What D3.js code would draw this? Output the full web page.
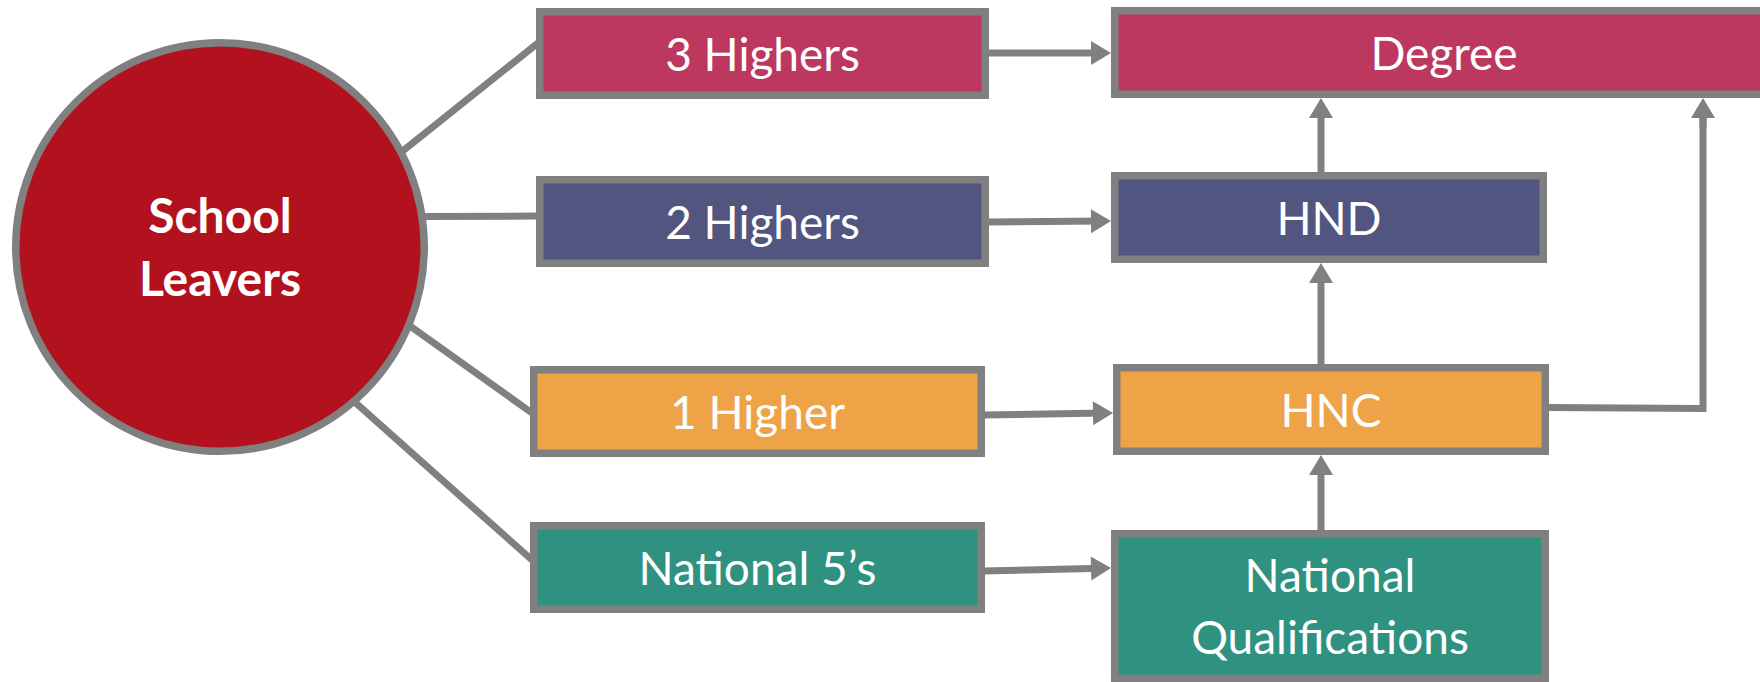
<!DOCTYPE html>
<html lang="en">
<head>
  <meta charset="UTF-8">
  <title>School leaver pathways</title>
  <script src="https://cdn.jsdelivr.net/npm/d3@7/dist/d3.min.js"></script>
  <style>
    body { margin: 0; background: #fff; }
    svg { display: block; }
  </style>
</head>
<body>
  <svg width="1760" height="682"></svg>
  <script>
    // nodes and links
    var startLabel = ['School', 'Leavers'];
    var leftLabels = ['3 Highers', '2 Highers', '1 Higher', 'National 5\u2019s'];
    var rightLabels = ['Degree', 'HND', 'HNC', 'National|Qualifications'];
    var levels = ['top', 'second', 'third', 'bottom'];
    // school leaver -> left box, left box -> right box (same level)
    var upLinks = [['HND', 'Degree'], ['HNC', 'HND'], ['National|Qualifications', 'HNC']];
    var elbowLinks = [['HNC', 'Degree']];

    // layout (outer edges of the boxes, in pixels)
    var leftBoxes = [
      {x0: 536, x1: 989, y0: 8, y1: 99, inY: 43, outY: 53},
      {x0: 536, x1: 989, y0: 176, y1: 267, inY: 216, outY: 222},
      {x0: 530, x1: 985, y0: 366, y1: 457, inY: 413, outY: 415},
      {x0: 530, x1: 985, y0: 522, y1: 613, inY: 560, outY: 571}
    ];
    var rightBoxes = [
      {x0: 1111, x1: 1777, y0: 7, y1: 98, inY: 53},
      {x0: 1111, x1: 1547, y0: 172, y1: 263, inY: 221},
      {x0: 1113, x1: 1549, y0: 364, y1: 455, inY: 413},
      {x0: 1111, x1: 1549, y0: 530, y1: 682, inY: 568}
    ];
    var spokeAngles = [-27.7, -8.5, 22.6, 49];
    var hub = {cx: 220, cy: 247, r: 208};
    var upX = 1321, elbowX = 1703, elbowY = 407.5;

    var palette = ['#bc385e', '#52557f', '#efa347', '#2f9280'];
    var hubColor = '#b2121d';
    var grey = '#808080';
    var sw = 7.5;
    var fontSize = 46;
    var lineGap = 62;

    var svg = d3.select('svg');
    var linkLayer = svg.append('g');
    var nodeLayer = svg.append('g');
    var line = d3.line();

    function arrow(from, to) {
      var dx = to[0] - from[0], dy = to[1] - from[1];
      var len = Math.sqrt(dx * dx + dy * dy);
      var ux = dx / len, uy = dy / len;
      var headLen = 20, half = 12;
      var base = [to[0] - ux * headLen, to[1] - uy * headLen];
      linkLayer.append('path')
        .attr('d', line([from, [to[0] - ux * 8, to[1] - uy * 8]]))
        .attr('stroke', grey).attr('stroke-width', 7).attr('fill', 'none');
      linkLayer.append('path')
        .attr('d', line([to, [base[0] - uy * half, base[1] + ux * half], [base[0] + uy * half, base[1] - ux * half]]) + 'Z')
        .attr('fill', grey);
    }

    // spokes from the hub
    levels.forEach(function(l, i) {
      var a = spokeAngles[i] * Math.PI / 180;
      var b = leftBoxes[i];
      var start = [hub.cx + (hub.r - 2) * Math.cos(a), hub.cy + (hub.r - 2) * Math.sin(a)];
      linkLayer.append('path')
        .attr('d', line([start, [b.x0 + 2, b.inY]]))
        .attr('stroke', grey).attr('stroke-width', 7).attr('fill', 'none');
    });

    // left -> right arrows
    levels.forEach(function(l, i) {
      var a = leftBoxes[i], b = rightBoxes[i];
      arrow([a.x1 - 2, a.outY], [b.x0, b.inY]);
    });

    var rightIndex = {};
    rightLabels.forEach(function(d, i) { rightIndex[d] = i; });

    upLinks.forEach(function(d) {
      var s = rightBoxes[rightIndex[d[0]]], t = rightBoxes[rightIndex[d[1]]];
      arrow([upX, s.y0 + 2], [upX, t.y1]);
    });

    elbowLinks.forEach(function(d) {
      var s = rightBoxes[rightIndex[d[0]]], t = rightBoxes[rightIndex[d[1]]];
      linkLayer.append('path')
        .attr('d', line([[s.x1 - 2, elbowY], [elbowX, elbowY + 1], [elbowX, t.y1 + 12]]))
        .attr('stroke', grey).attr('stroke-width', 7).attr('fill', 'none')
        .attr('stroke-linejoin', 'miter');
      arrow([elbowX, t.y1 + 30], [elbowX, t.y1]);
    });

    function box(b, color, label) {
      var g = nodeLayer.append('g');
      g.append('rect')
        .attr('x', b.x0 + sw / 2).attr('y', b.y0 + sw / 2)
        .attr('width', b.x1 - b.x0 - sw).attr('height', b.y1 - b.y0 - sw)
        .attr('fill', color).attr('stroke', grey).attr('stroke-width', sw);
      var lines = label.split('|');
      var cx = (b.x0 + b.x1) / 2, cy = (b.y0 + b.y1) / 2;
      lines.forEach(function(t, k) {
        g.append('text')
          .attr('x', cx)
          .attr('y', cy + 17 + (k - (lines.length - 1) / 2) * lineGap)
          .attr('text-anchor', 'middle')
          .attr('font-family', 'Lato, "Open Sans", sans-serif')
          .attr('font-size', fontSize)
          .attr('fill', '#fff')
          .text(t);
      });
    }

    leftLabels.forEach(function(d, i) { box(leftBoxes[i], palette[i], d); });
    rightLabels.forEach(function(d, i) { box(rightBoxes[i], palette[i], d); });

    // hub circle
    nodeLayer.append('circle')
      .attr('cx', hub.cx).attr('cy', hub.cy).attr('r', hub.r - sw / 2)
      .attr('fill', hubColor).attr('stroke', grey).attr('stroke-width', sw);
    startLabel.forEach(function(t, k) {
      nodeLayer.append('text')
        .attr('x', hub.cx)
        .attr('y', hub.cy + 17 + (k - 0.5) * 63)
        .attr('text-anchor', 'middle')
        .attr('font-family', 'Lato, "Open Sans", sans-serif')
        .attr('font-weight', 'bold')
        .attr('font-size', 48)
        .attr('fill', '#fff')
        .text(t);
    });
  </script>
</body>
</html>
